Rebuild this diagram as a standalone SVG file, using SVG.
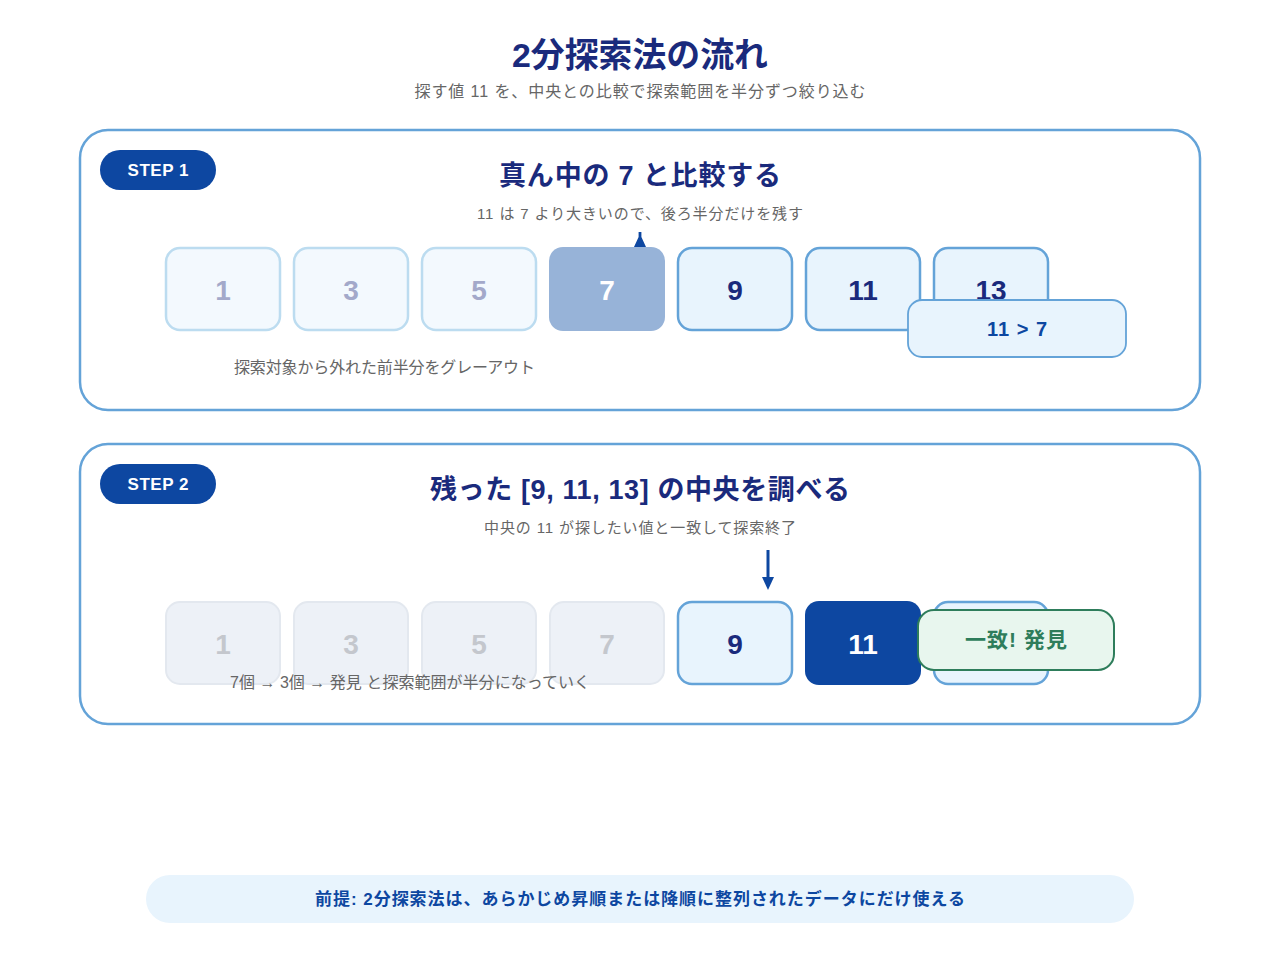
<svg xmlns="http://www.w3.org/2000/svg" width="1280" height="960" viewBox="0 0 1280 960">
<style>
text{font-family:"Liberation Sans","Noto Sans CJK JP",sans-serif}
.title{font-size:34px;font-weight:bold;fill:#1a2a7c}
.sub{font-size:16px;fill:#666}
.panel{fill:#fff;stroke:#64a3d8;stroke-width:2.5}
.pill{fill:#0d47a1}
.pilltxt{font-size:17px;font-weight:bold;fill:#fff}
.head{font-size:27px;font-weight:bold;fill:#1a2a7c}
.note{font-size:16px;fill:#666}
.num{font-size:28px;font-weight:bold}
.out1{fill:#f3f9fe;stroke:#bcdcf0;stroke-width:2.5}
.out1t{fill:#a3a9ca}
.out2{fill:#edf1f7;stroke:#e3e8ef;stroke-width:2}
.out2t{fill:#c4c7cd}
.act{fill:#e8f4fd;stroke:#64a3d8;stroke-width:2.5}
.actt{fill:#1a2a7c}
.mid{fill:#97b3d8}
.hit{fill:#0d47a1}
.wt{fill:#fff}
</style>
<g id="header">
<text class="title" x="640" y="67" text-anchor="middle" textLength="256" lengthAdjust="spacingAndGlyphs">2分探索法の流れ</text>
<text class="sub" x="640" y="97" text-anchor="middle" textLength="451">探す値 11 を、中央との比較で探索範囲を半分ずつ絞り込む</text>
</g>
<g id="step1">
<rect class="panel" x="80" y="130" width="1120" height="280" rx="28"/>
<rect class="pill" x="100" y="150" width="116" height="40" rx="20"/>
<text class="pilltxt" x="158" y="176" text-anchor="middle" textLength="61">STEP 1</text>
<text class="head" x="640" y="185" text-anchor="middle" textLength="282">真ん中の 7 と比較する</text>
<text class="sub" x="640" y="219" text-anchor="middle" style="font-size:15px" textLength="326">11 は 7 より大きいので、後ろ半分だけを残す</text>
</g>
<g id="s1-box1"><rect class="out1" x="166" y="248" width="114" height="82" rx="14"/><text class="num out1t" x="223" y="300" text-anchor="middle">1</text></g>
<g id="s1-box3"><rect class="out1" x="294" y="248" width="114" height="82" rx="14"/><text class="num out1t" x="351" y="300" text-anchor="middle">3</text></g>
<g id="s1-box5"><rect class="out1" x="422" y="248" width="114" height="82" rx="14"/><text class="num out1t" x="479" y="300" text-anchor="middle">5</text></g>
<g id="s1-box7"><rect class="mid" x="549" y="247" width="116" height="84" rx="14"/><text class="num wt" x="607" y="300" text-anchor="middle">7</text></g>
<g id="s1-box9"><rect class="act" x="678" y="248" width="114" height="82" rx="14"/><text class="num actt" x="735" y="300" text-anchor="middle">9</text></g>
<g id="s1-box11"><rect class="act" x="806" y="248" width="114" height="82" rx="14"/><text class="num actt" x="863" y="300" text-anchor="middle">11</text></g>
<g id="s1-box13"><rect class="act" x="934" y="248" width="114" height="82" rx="14"/><text class="num actt" x="991" y="300" text-anchor="middle">13</text></g>
<g id="s1-compare">
<rect x="908" y="300" width="218" height="57" rx="14" fill="#e8f4fd" stroke="#64a3d8" stroke-width="1.8"/>
<text x="1017" y="336" text-anchor="middle" style="font-size:20px;font-weight:bold;fill:#0d47a1" textLength="60">11 &gt; 7</text>
</g>
<g id="s1-note"><text class="note" x="234" y="373" textLength="301">探索対象から外れた前半分をグレーアウト</text></g>

<g id="step2">
<rect class="panel" x="80" y="444" width="1120" height="280" rx="28"/>
<rect class="pill" x="100" y="464" width="116" height="40" rx="20"/>
<text class="pilltxt" x="158" y="490" text-anchor="middle" textLength="61">STEP 2</text>
<text class="head" x="640" y="499" text-anchor="middle" textLength="420">残った [9, 11, 13] の中央を調べる</text>
<text class="sub" x="640" y="533" text-anchor="middle" style="font-size:15px" textLength="312">中央の 11 が探したい値と一致して探索終了</text>
</g>
<g id="s2-box1"><rect class="out2" x="166" y="602" width="114" height="82" rx="14"/><text class="num out2t" x="223" y="654" text-anchor="middle">1</text></g>
<g id="s2-box3"><rect class="out2" x="294" y="602" width="114" height="82" rx="14"/><text class="num out2t" x="351" y="654" text-anchor="middle">3</text></g>
<g id="s2-box5"><rect class="out2" x="422" y="602" width="114" height="82" rx="14"/><text class="num out2t" x="479" y="654" text-anchor="middle">5</text></g>
<g id="s2-box7"><rect class="out2" x="550" y="602" width="114" height="82" rx="14"/><text class="num out2t" x="607" y="654" text-anchor="middle">7</text></g>
<g id="s2-box9"><rect class="act" x="678" y="602" width="114" height="82" rx="14"/><text class="num actt" x="735" y="654" text-anchor="middle">9</text></g>
<g id="s2-box11"><rect class="hit" x="805" y="601" width="116" height="84" rx="14"/><text class="num wt" x="863" y="654" text-anchor="middle">11</text></g>
<g id="s2-box13"><rect class="act" x="934" y="602" width="114" height="82" rx="14"/></g>
<g id="s2-found">
<rect x="918" y="610" width="196" height="60" rx="16" fill="#e8f6ee" stroke="#2e7d5b" stroke-width="2"/>
<text x="1016" y="647" text-anchor="middle" style="font-size:21px;font-weight:bold;fill:#2e7d5b" textLength="102">一致! 発見</text>
</g>
<g id="s2-note"><text class="note" x="230" y="688" textLength="360">7個 → 3個 → 発見 と探索範囲が半分になっていく</text></g>

<g id="connectors">
<path d="M638.6 232 h2.8 v5 l4.6 10 h-12 l4.6 -10 z" fill="#0d47a1"/>
<line x1="768" y1="550" x2="768" y2="578" stroke="#0d47a1" stroke-width="3"/>
<path d="M762 577 L774 577 L768 590 Z" fill="#0d47a1"/>
</g>

<g id="footer">
<rect x="146" y="875" width="988" height="48" rx="24" fill="#e8f4fd"/>
<text x="640" y="905" text-anchor="middle" style="font-size:17px;font-weight:bold;fill:#0d47a1" textLength="650">前提: 2分探索法は、あらかじめ昇順または降順に整列されたデータにだけ使える</text>
</g>
</svg>
